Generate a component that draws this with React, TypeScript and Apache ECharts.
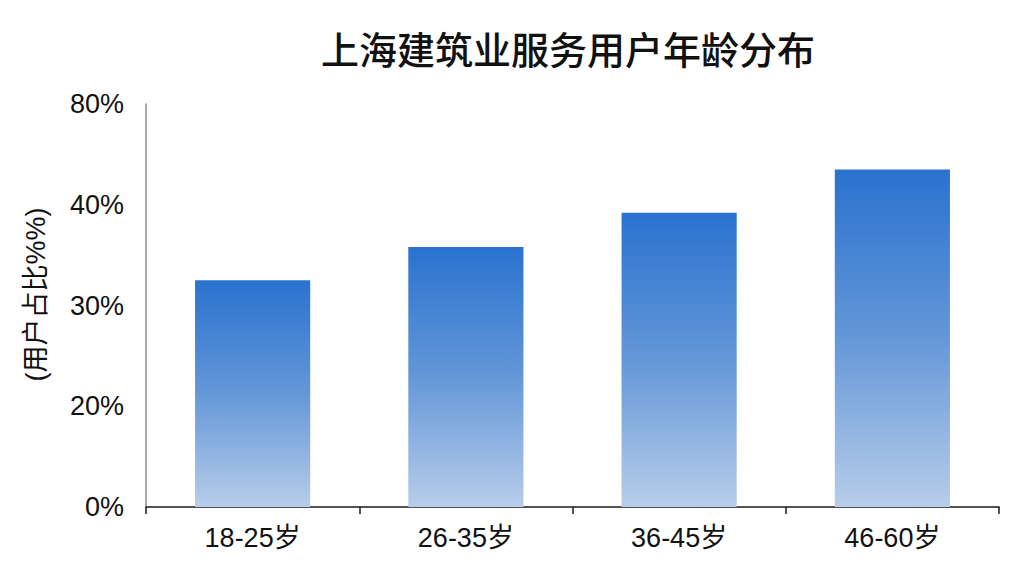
import { useEffect, useRef } from "react";
import * as echarts from "echarts";

const ageGroups = ["18-25岁", "26-35岁", "36-45岁", "46-60岁"];
const userShare = [22.5, 25.8, 29.2, 33.5];
// tick labels as printed on the original axis (evenly spaced)
const yTickLabels = ["0%", "20%", "30%", "40%", "80%"];

const FONT = "'Liberation Sans', Arial, 'Noto Sans CJK SC', sans-serif";

export default function App() {
  const chartRef = useRef<HTMLDivElement>(null);

  useEffect(() => {
    if (!chartRef.current) return;
    const chart = echarts.init(chartRef.current, null, { renderer: "svg" });

    const option = {
      animation: false,
      backgroundColor: "#ffffff",
      title: {
        text: "上海建筑业服务用户年龄分布",
        left: 563,
        top: 23,
        textAlign: "center",
        textStyle: {
          fontFamily: "'Noto Sans CJK SC', sans-serif",
          fontSize: 38,
          fontWeight: 500,
          color: "#111111",
        },
      },
      grid: {
        left: 146,
        right: 25,
        top: 104,
        bottom: 69,
        containLabel: false,
      },
      xAxis: {
        type: "category",
        data: ageGroups,
        boundaryGap: true,
        axisLine: { show: true, lineStyle: { color: "#1a1a1a", width: 1.5 } },
        axisTick: { show: true, length: 7, lineStyle: { color: "#1a1a1a", width: 1.5 } },
        axisLabel: {
          color: "#111111",
          fontFamily: FONT,
          fontSize: 27,
          margin: 17,
        },
        splitLine: { show: false },
      },
      yAxis: {
        type: "value",
        min: 0,
        max: 40,
        interval: 10,
        name: "(用户占比%%)",
        nameLocation: "middle",
        nameGap: 97,
        nameRotate: 90,
        nameTextStyle: {
          fontFamily: FONT,
          fontSize: 27,
          color: "#111111",
          padding: [0, 0, 0, 22],
        },
        axisLine: { show: true, lineStyle: { color: "#8a8a8a", width: 1.5 } },
        axisTick: { show: false },
        splitLine: { show: false },
        axisLabel: {
          color: "#111111",
          fontFamily: FONT,
          fontSize: 27,
          margin: 22,
          formatter: (v: number) => yTickLabels[Math.round(v / 10)] ?? "",
        },
      },
      series: [
        {
          type: "bar",
          data: userShare,
          barWidth: "54%",
          itemStyle: {
            color: new echarts.graphic.LinearGradient(0, 0, 0, 1, [
              { offset: 0, color: "#2a72cf" },
              { offset: 0.5, color: "#6497d8" },
              { offset: 1, color: "#b8cdea" },
            ]),
          },
        },
      ],
    };

    chart.setOption(option);

    return () => {
      chart.dispose();
    };
  }, []);

  return <div ref={chartRef} style={{ width: 1024, height: 576, margin: -8 }} />;
}
